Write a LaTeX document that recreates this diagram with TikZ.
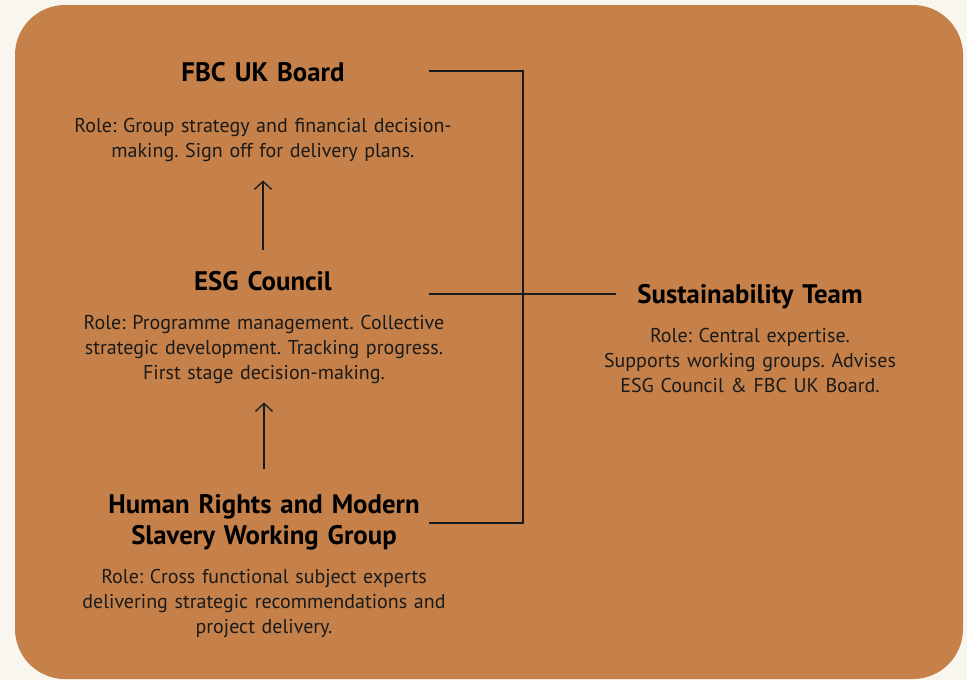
\documentclass[tikz,border=0pt]{standalone}
\usepackage{fontspec}
\setmainfont{PT Sans}
\usetikzlibrary{arrows.meta}
\definecolor{paper}{HTML}{F9F6EF}
\definecolor{panel}{HTML}{C58149}
\definecolor{ink}{HTML}{1A1A1A}
\frenchspacing
\begin{document}
\begin{tikzpicture}[x=1pt,y=-1pt,
  heading/.style={font=\fontsize{26.8}{31}\selectfont\bfseries, text=black, inner sep=0pt, align=center, text width=400pt},
  roletext/.style={font=\fontsize{20}{25}\selectfont, text=ink, inner sep=0pt, align=center, text width=440pt},
  link/.style={draw=ink, line width=1.3pt},
  uparrow/.style={link, -{Straight Barb[length=8pt,width=17pt]}}]
% page and panel
\fill[paper] (0,0) rectangle (967,680);
\fill[panel, rounded corners=50pt] (15,5) rectangle (963,679);

% governance bodies
\node[heading, anchor=base] (board) at (263,81) {FBC UK Board};
\node[roletext, anchor=base] (boardrole) at (263,132) {Role: Group strategy and financial decision-\\making. Sign off for delivery plans.};
\node[heading, anchor=base] (council) at (263,290) {ESG Council};
\node[roletext, anchor=base] (councilrole) at (264,329) {Role: Programme management. Collective\\strategic development. Tracking progress.\\First stage decision-making.};
\node[heading, anchor=base] (group) at (264,513) {Human Rights and Modern\\Slavery Working Group};
\node[roletext, anchor=base] (grouprole) at (264,583) {Role: Cross functional subject experts\\delivering strategic recommendations and\\project delivery.};
\node[heading, anchor=base, text width=300pt] (team) at (750,303) {Sustainability Team};
\node[roletext, anchor=base, text width=360pt] (teamrole) at (750,342) {Role: Central expertise.\\Supports working groups. Advises\\ESG Council \& FBC UK Board.};

% reporting arrows
\draw[uparrow, shorten <=21pt, shorten >=19pt] (council.north) -- (boardrole.south);
\draw[uparrow, shorten <=25pt, shorten >=19pt] (group.north) -- (councilrole.south);

% advisory spine
\coordinate (boardR) at (429,71);
\coordinate (councilR) at (429,294);
\coordinate (groupR) at (429,523);
\coordinate (spineTop) at (523,71);
\coordinate (spineBot) at (523,523);
\coordinate (teamL) at (616,294);
\draw[link] (boardR) -- (spineTop) -- (spineBot) -- (groupR);
\draw[link] (councilR) -- (teamL);
\end{tikzpicture}
\end{document}
